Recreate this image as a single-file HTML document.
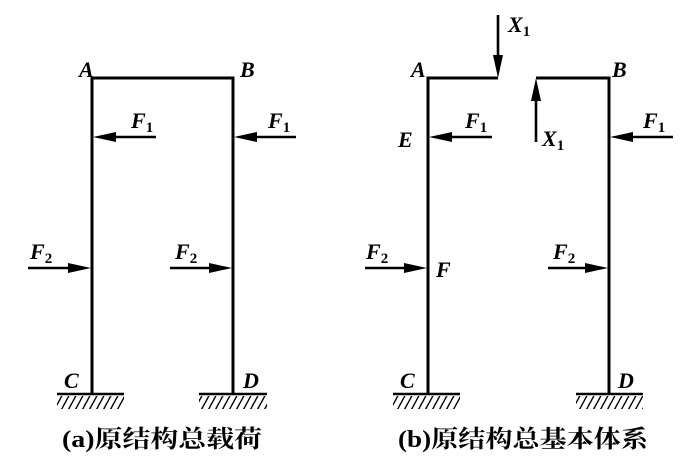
<!DOCTYPE html>
<html><head><meta charset="utf-8"><style>
body{margin:0;background:#fff;width:700px;height:462px;overflow:hidden}
svg{display:block}
.l{font-family:"Liberation Serif",serif;font-style:italic;font-weight:bold;font-size:22px}
.s{font-family:"Liberation Serif",serif;font-weight:bold;font-size:15px;font-style:normal}
.c{font-family:"Liberation Serif","Noto Serif CJK SC",serif;font-weight:bold;font-size:24px}
</style></head><body>
<svg width="700" height="462" viewBox="0 0 700 462">
<defs>
<pattern id="h" width="7" height="13" patternUnits="userSpaceOnUse"><line x1="10" y1="-2" x2="1" y2="15" stroke="#000" stroke-width="1.4"/><line x1="3" y1="-2" x2="-6" y2="15" stroke="#000" stroke-width="1.4"/></pattern>
</defs>
<g stroke="#000" stroke-width="3" fill="none">
<path d="M92,394 V78 H233 V394"/>
<path d="M428,394 V78 H498"/>
<path d="M536,78 H609 V394"/>
</g>
<g stroke="#000" stroke-width="2.4">
<line x1="57" y1="394" x2="124" y2="394"/>
<line x1="199" y1="394" x2="267" y2="394"/>
<line x1="393" y1="394" x2="460" y2="394"/>
<line x1="576" y1="394" x2="643" y2="394"/>
</g>
<g fill="url(#h)">
<rect x="57" y="396" width="67" height="13"/>
<rect x="199" y="396" width="68" height="13"/>
<rect x="393" y="396" width="67" height="13"/>
<rect x="576" y="396" width="67" height="13"/>
</g>
<g stroke="#000" stroke-width="2.6">
<line x1="156" y1="137" x2="110" y2="137"/>
<line x1="296" y1="137" x2="250" y2="137"/>
<line x1="28" y1="268" x2="75" y2="268"/>
<line x1="170" y1="268" x2="216" y2="268"/>
<line x1="492" y1="137" x2="446" y2="137"/>
<line x1="673" y1="137" x2="626" y2="137"/>
<line x1="365" y1="268" x2="411" y2="268"/>
<line x1="548" y1="268" x2="592" y2="268"/>
<line x1="498" y1="15" x2="498" y2="60"/>
<line x1="536" y1="142" x2="536" y2="96"/>
</g>
<g fill="#000">
<polygon points="93,137 116,132 116,142"/>
<polygon points="234,137 257,132 257,142"/>
<polygon points="91,268 68,263 68,273"/>
<polygon points="232,268 209,263 209,273"/>
<polygon points="429,137 452,132 452,142"/>
<polygon points="610,137 633,132 633,142"/>
<polygon points="427,268 404,263 404,273"/>
<polygon points="608,268 585,263 585,273"/>
<polygon points="498,78 493,55 503,55"/>
<polygon points="536,78 531,101 541,101"/>
</g>
<g class="l">
<text x="79" y="77">A</text><text x="240" y="77">B</text>
<text x="131" y="128">F<tspan class="s" dy="4">1</tspan></text>
<text x="268" y="128">F<tspan class="s" dy="4">1</tspan></text>
<text x="30" y="259">F<tspan class="s" dy="4">2</tspan></text>
<text x="175" y="259">F<tspan class="s" dy="4">2</tspan></text>
<text x="64" y="388">C</text><text x="243" y="388">D</text>
<text x="411" y="77">A</text><text x="612" y="77">B</text>
<text x="508" y="32">X<tspan class="s" dy="4">1</tspan></text>
<text x="542" y="146">X<tspan class="s" dy="4">1</tspan></text>
<text x="398" y="147">E</text>
<text x="465" y="128">F<tspan class="s" dy="4">1</tspan></text>
<text x="643" y="128">F<tspan class="s" dy="4">1</tspan></text>
<text x="366" y="259">F<tspan class="s" dy="4">2</tspan></text>
<text x="553" y="259">F<tspan class="s" dy="4">2</tspan></text>
<text x="436" y="277">F</text>
<text x="400" y="388">C</text><text x="618" y="388">D</text>
</g>
<text class="c" x="62" y="447" textLength="200" lengthAdjust="spacingAndGlyphs">(a)原结构总载荷</text>
<text class="c" x="398" y="447" textLength="250" lengthAdjust="spacingAndGlyphs">(b)原结构总基本体系</text>
</svg>
</body></html>
